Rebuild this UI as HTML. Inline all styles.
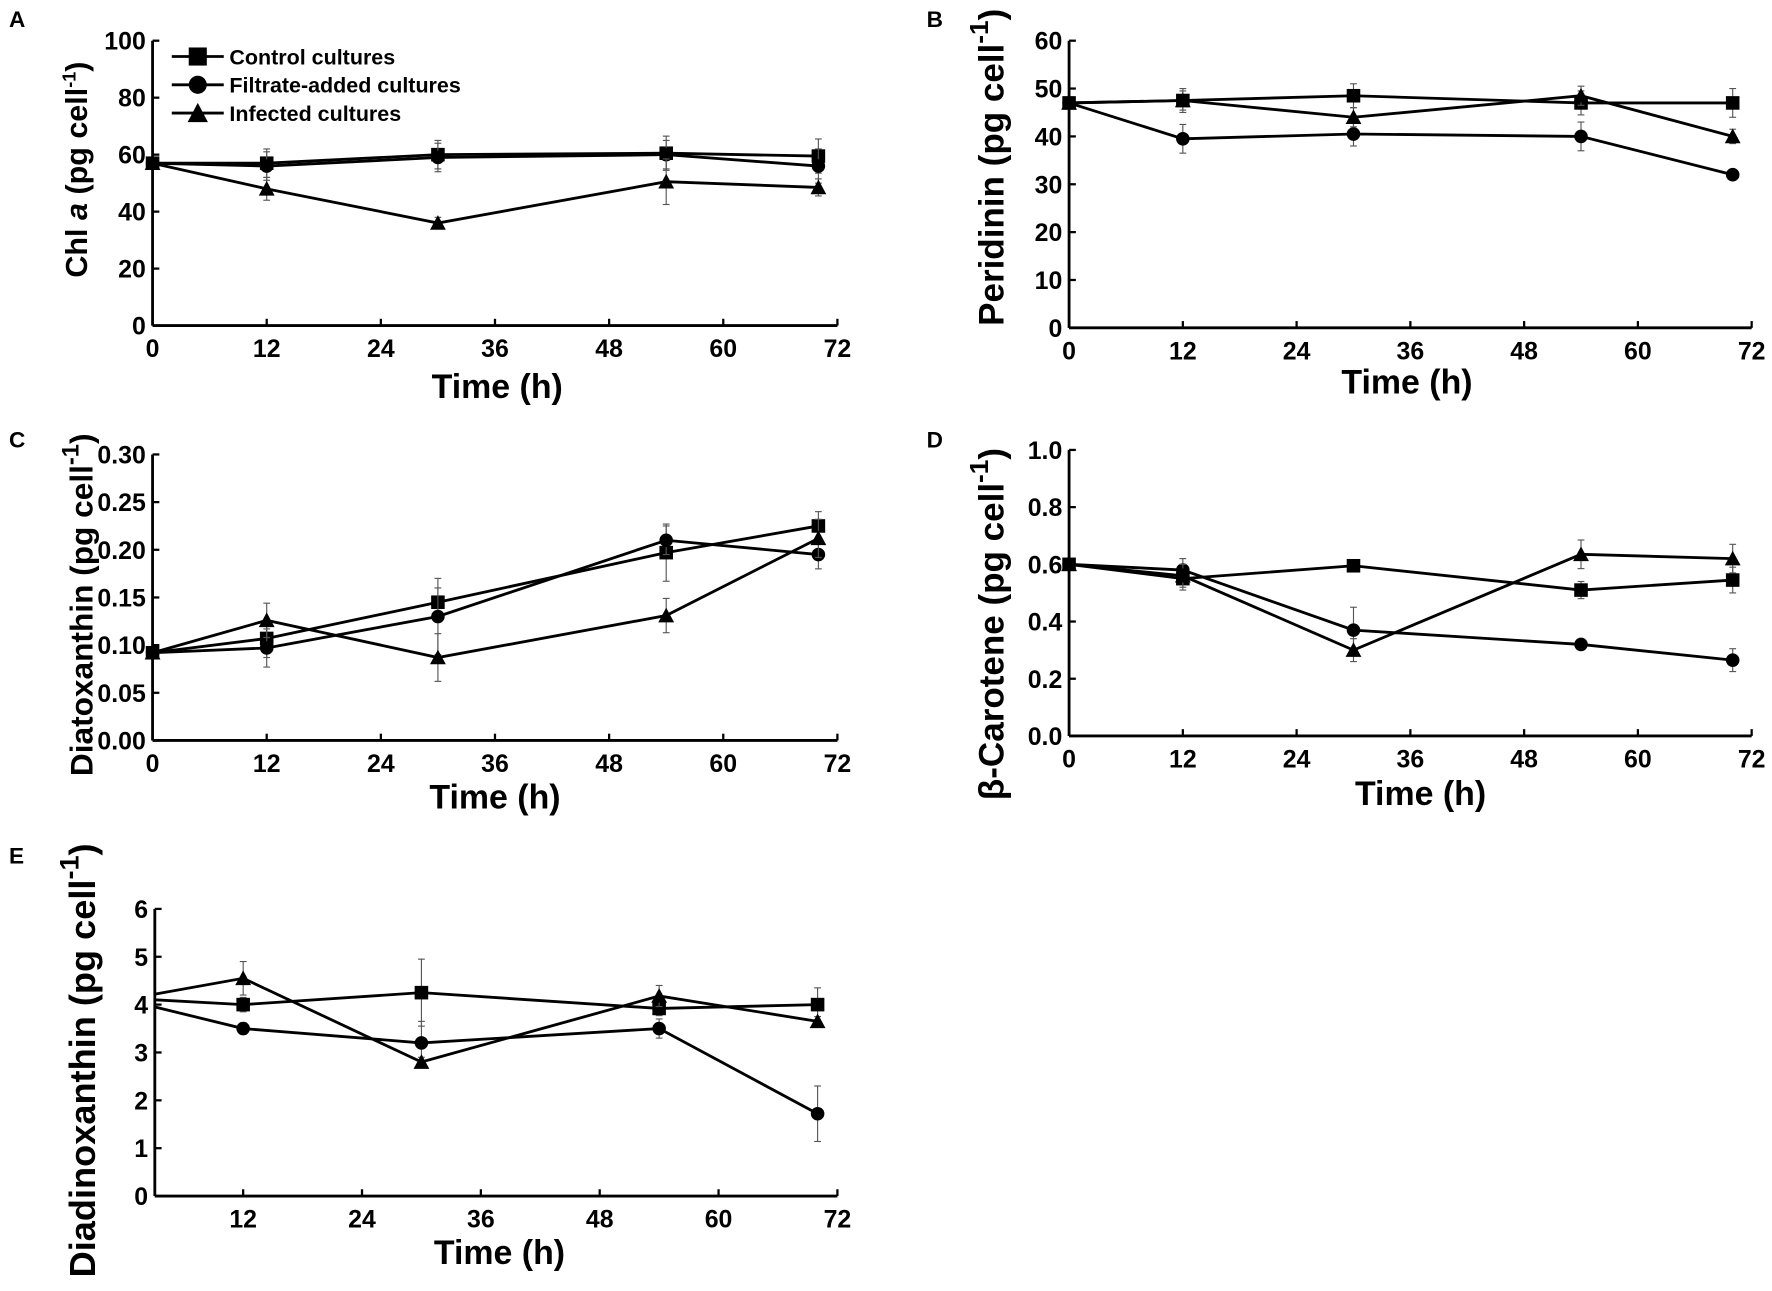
<!DOCTYPE html>
<html><head><meta charset="utf-8">
<style>
html,body{margin:0;padding:0;background:#fff;}
svg{display:block;}
text{font-family:"Liberation Sans Narrow","Liberation Sans",sans-serif;font-weight:bold;fill:#000;}
.lab{font-family:"Liberation Sans",sans-serif;}
</style></head>
<body>
<svg id="s" width="1772" height="1291" viewBox="0 0 1568 1142" preserveAspectRatio="none" xmlns="http://www.w3.org/2000/svg">
<text class="lab" x="8" y="24" font-size="20">A</text>
<text class="lab" x="820" y="24" font-size="20">B</text>
<text class="lab" x="8" y="396" font-size="20">C</text>
<text class="lab" x="820" y="396" font-size="20">D</text>
<text class="lab" x="8" y="764" font-size="20">E</text>
</svg>
<script>
const S=document.getElementById('s');const NS='http://www.w3.org/2000/svg';
function el(t,a,txt){const e=document.createElementNS(NS,t);for(const k in a)e.setAttribute(k,a[k]);if(txt!==undefined)e.textContent=txt;S.appendChild(e);return e;}
function panel(p){
 const X=t=>p.x0+(t-p.t0)*(p.x1-p.x0)/(p.t1-p.t0);
 const Y=v=>p.y0-(v)*(p.y0-p.y1)/p.vmax;
 const ax0=p.axStart!==undefined?p.axStart:p.x0;
 el('line',{x1:ax0,y1:p.y0,x2:p.x1,y2:p.y0,stroke:'#000','stroke-width':2.5});
 el('line',{x1:ax0,y1:p.y0,x2:ax0,y2:p.y1,stroke:'#000','stroke-width':2.5});
 p.xt.forEach(t=>{const x=X(t);el('line',{x1:x,y1:p.y0,x2:x,y2:p.y0-6,stroke:'#000','stroke-width':2});
  el('text',{x:x,y:p.y0+28,'font-size':22,'text-anchor':'middle'},String(t));});
 p.yt.forEach(v=>{const y=Y(v);el('line',{x1:ax0,y1:y,x2:ax0+6,y2:y,stroke:'#000','stroke-width':2});
  el('text',{x:ax0-6,y:y+8,'font-size':22,'text-anchor':'end'},p.fmt(v));});
 el('text',{class:'lab',x:p.tx,y:p.ty,'font-size':30,'text-anchor':'middle'},'Time (h)');
 const yl=el('text',{class:'lab',x:0,y:0,'font-size':p.lfs||26,'text-anchor':'middle',transform:`translate(${p.lx},${p.ly}) rotate(-90)`});
 yl.innerHTML=p.lab;
 const ts=p.ts;
 p.series.forEach((s,si)=>{
  const pts=s.v.map((v,i)=>[X(ts[i]),Y(v)]);
  el('polyline',{points:pts.map(q=>q.join(',')).join(' '),fill:'none',stroke:'#000','stroke-width':2.5});
  pts.forEach((q,i)=>{
   if(s.e&&s.e[i]){const e=s.e[i]*(p.y0-p.y1)/p.vmax;
    el('line',{x1:q[0],y1:q[1]-e,x2:q[0],y2:q[1]+e,stroke:'#555','stroke-width':1});
    el('line',{x1:q[0]-3,y1:q[1]-e,x2:q[0]+3,y2:q[1]-e,stroke:'#555','stroke-width':1});
    el('line',{x1:q[0]-3,y1:q[1]+e,x2:q[0]+3,y2:q[1]+e,stroke:'#555','stroke-width':1});}
   if(i===0&&p.noFirst)return;
   mark(si,q[0],q[1],p.ms||6);
  });
 });
}
function mark(k,x,y,r){
 if(k===0)el('rect',{x:x-r,y:y-r,width:2*r,height:2*r,fill:'#000'});
 else if(k===1)el('circle',{cx:x,cy:y,r:r,fill:'#000'});
 else el('polygon',{points:`${x},${y-r-1} ${x+r+1},${y+r} ${x-r-1},${y+r}`,fill:'#000'});
}
const T=[0,12,30,54,70];
const sup=(fs)=>`<tspan dy="-${fs*0.45}" font-size="${fs*0.75}">-1</tspan><tspan dy="${fs*0.45}">)</tspan>`;
panel({x0:135,x1:741,t0:0,t1:72,y0:288,y1:36,vmax:100,xt:[0,12,24,36,48,60,72],yt:[0,20,40,60,80,100],fmt:v=>v,
 tx:440,ty:352,lx:77,ly:150,lfs:27,lab:'Chl <tspan font-style="italic">a</tspan> (pg cell<tspan dy="-10" font-size="16">-1</tspan><tspan dy="10">)</tspan>',ts:T,
 series:[{v:[57,57,60,60.5,59.5],e:[0,5,5,6,6]},{v:[57,56,59,60,56],e:[0,5,5,5,6]},{v:[57,48,36,50.5,48.5],e:[0,4,2,8,3]}]});
panel({x0:946,x1:1550,t0:0,t1:72,y0:290,y1:36,vmax:60,xt:[0,12,24,36,48,60,72],yt:[0,10,20,30,40,50,60],fmt:v=>v,
 tx:1245,ty:348,lx:888,ly:148,lfs:31,lab:'Peridinin (pg cell'+sup(31),ts:T,
 series:[{v:[47,47.5,48.5,47,47],e:[0,2.5,2.5,2.5,3]},{v:[47,39.5,40.5,40,32],e:[0,3,2.5,3,0]},{v:[47,47.5,44,48.5,40],e:[0,2,2,2,1.5]}]});
panel({x0:135,x1:741,t0:0,t1:72,y0:655,y1:402,vmax:0.3,xt:[0,12,24,36,48,60,72],yt:[0,.05,.1,.15,.2,.25,.3],fmt:v=>v.toFixed(2),
 tx:438,ty:715,lx:82,ly:535,lfs:28,lab:'Diatoxanthin (pg cell'+sup(28),ts:T,
 series:[{v:[.092,.107,.145,.197,.225],e:[0,.02,.015,.03,.015]},{v:[.092,.097,.13,.21,.195],e:[0,.02,.04,.015,.015]},{v:[.092,.126,.087,.131,.212],e:[0,.018,.025,.018,.02]}]});
panel({x0:946,x1:1550,t0:0,t1:72,y0:651,y1:398,vmax:1.0,xt:[0,12,24,36,48,60,72],yt:[0,.2,.4,.6,.8,1.0],fmt:v=>v.toFixed(1),
 tx:1257,ty:712,lx:888,ly:552,lfs:31,lab:'β-Carotene (pg cell'+sup(31),ts:T,
 series:[{v:[.6,.55,.595,.51,.545],e:[0,.04,.02,.03,.045]},{v:[.6,.58,.37,.32,.265],e:[0,.04,.08,.015,.04]},{v:[.6,.56,.3,.635,.62],e:[0,.04,.04,.05,.05]}]});
panel({x0:110,x1:741,t0:0,t1:72,axStart:137,y0:1058,y1:804,vmax:6,xt:[12,24,36,48,60,72],yt:[0,1,2,3,4,5,6],fmt:v=>v,noFirst:true,
 tx:442,ty:1118,lx:84,ly:938,lfs:32,lab:'Diadinoxanthin (pg cell'+sup(32),ts:[3.1,12,30,54,70],
 series:[{v:[4.1,4.0,4.25,3.92,4.0],e:[0,.15,.7,.15,.35]},{v:[3.95,3.5,3.2,3.5,1.72],e:[0,.12,.45,.2,.58]},{v:[4.22,4.55,2.8,4.18,3.65],e:[0,.35,.1,.22,.1]}]});
[[50,'Control cultures'],[75,'Filtrate-added cultures'],[100,'Infected cultures']].forEach((d,i)=>{
 el('line',{x1:152,y1:d[0],x2:198,y2:d[0],stroke:'#000','stroke-width':2.5});mark(i,175,d[0],8);
 el('text',{x:203,y:d[0]+7,'font-size':19},d[1]);});
</script>
</body></html>
